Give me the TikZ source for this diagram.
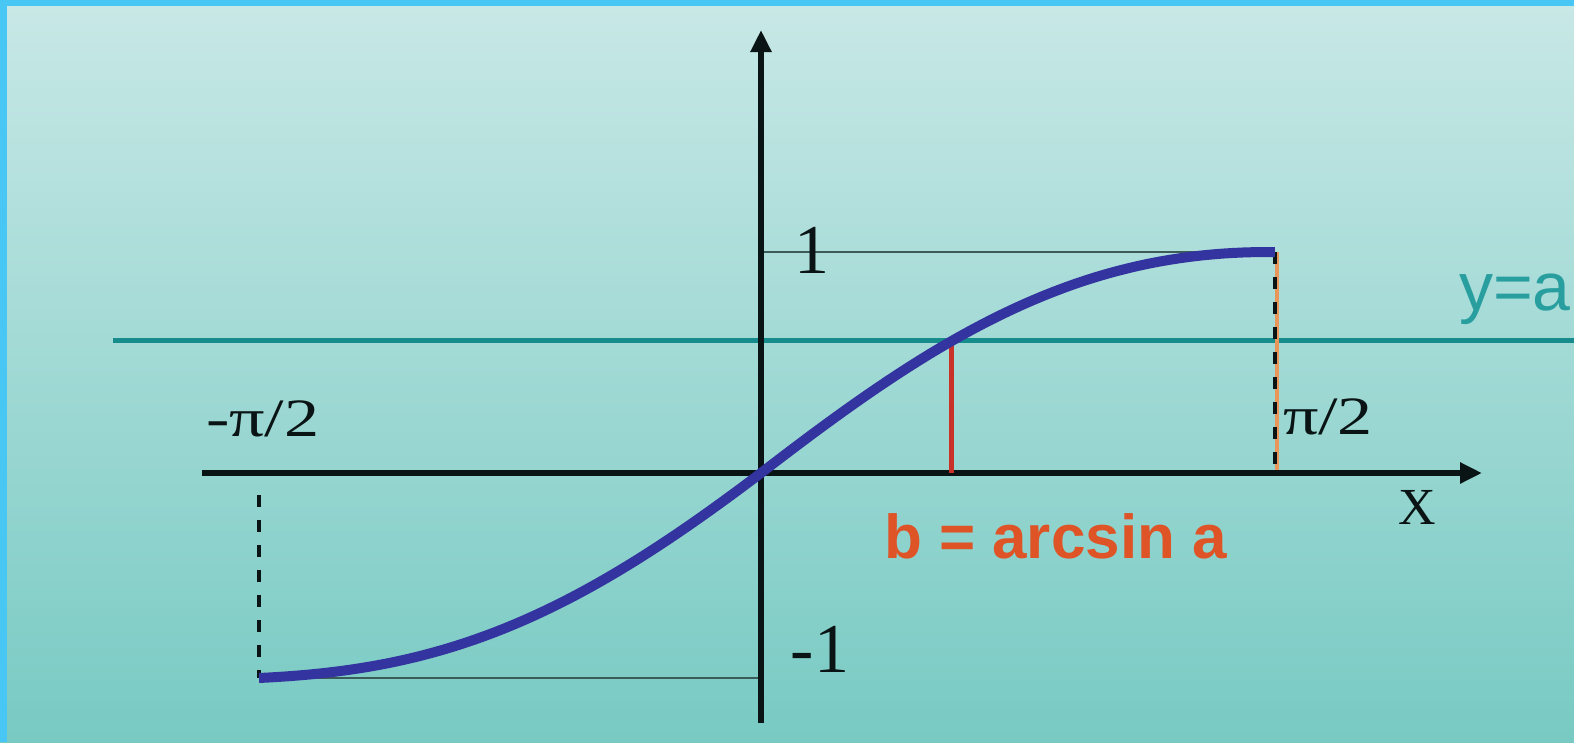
\documentclass[tikz,border=0pt]{standalone}
\usepackage{fontspec}
\usepackage{graphicx}
\setmainfont{Liberation Serif}
\newfontfamily\arialf{Liberation Sans}
\usetikzlibrary{arrows.meta}
\definecolor{bgtop}{RGB}{200,232,230}
\definecolor{bgmid}{RGB}{162,219,213}
\definecolor{bgbot}{RGB}{120,202,195}
\definecolor{frameblue}{RGB}{72,198,244}
\definecolor{axisblack}{RGB}{10,20,20}
\definecolor{curveblue}{RGB}{52,52,160}
\definecolor{lineteal}{RGB}{22,140,140}
\definecolor{textteal}{RGB}{40,158,158}
\definecolor{redline}{RGB}{200,50,40}
\definecolor{labelred}{RGB}{222,84,38}
\definecolor{dashorange}{RGB}{232,150,90}
\definecolor{thingray}{RGB}{60,92,90}
\begin{document}
\begin{tikzpicture}[x=1pt,y=-1pt,
  axisline/.style={draw=axisblack,line width=5.5pt,-{Triangle[length=22pt,width=20pt]}},
  thinline/.style={draw=thingray,line width=2.2pt},
  dashline/.style={draw=axisblack,line width=4.5pt,dash pattern=on 12pt off 13pt},
  curveline/.style={draw=curveblue,line width=10pt,line join=round},
  lab/.style={inner sep=0pt,outer sep=0pt,text=axisblack}]
\useasboundingbox (0,0) rectangle (1574,742);
% background and frame
\shade[top color=bgtop,middle color=bgmid,bottom color=bgbot] (0,0) rectangle (1574,742);
\fill[frameblue] (0,0) rectangle (1574,6);
\fill[frameblue] (0,0) rectangle (7,742);
% key points
\coordinate (O) at (761,473);
\coordinate (xa) at (202,473);
\coordinate (xb) at (1482,473);
\coordinate (ya) at (761,723);
\coordinate (yb) at (761,30);
\coordinate (P1) at (1275,252);
\coordinate (Pm1) at (259,678);
\coordinate (Y1) at (761,252);
\coordinate (Ym1) at (761,678);
\coordinate (Xp) at (1275,473);
\coordinate (Xm) at (259,495);
\coordinate (La) at (113,340);
\coordinate (Lb) at (1574,340);
\coordinate (B) at (951,341);
\coordinate (Bx) at (951,473);
% y = a line
\draw[lineteal,line width=5pt] (La) -- (Lb);
% thin guide lines
\draw[thinline] (Y1) -- (P1);
\draw[thinline] (Pm1) -- (Ym1);
% dashed verticals
\draw[dashorange,line width=4pt] ([xshift=2pt]P1) -- ([xshift=2pt]Xp);
\draw[dashline] (P1) -- (Xp);
\draw[dashline] (Xm) -- (Pm1);
% axes
\draw[axisline] (xa) -- (xb);
\draw[axisline] (ya) -- (yb);
% red segment
\draw[redline,line width=5pt] (B) -- (Bx);
% curve
\draw[curveline] plot[domain=1:0,samples=50,variable=\u]
   ({761-502*\u},{473+205*(sin(\u*90)+0.09*sin(\u*180)-0.4*\u*\u*(1-\u))})
  -- plot[domain=0:1,samples=50,variable=\u]
   ({761+514*\u},{473-221*(sin(\u*90)+0.07*sin(\u*180)-0.2*\u*\u*(1-\u))});
% labels
\node[lab,anchor=base] (one) at (812,273) {\fontsize{70}{70}\selectfont 1};
\node[lab,anchor=base] (mone) at (820,672) {\fontsize{70}{70}\selectfont -1};
\node[lab,anchor=base west] (mpi) at (206,436) {\scalebox{1.3}[1]{\fontsize{54}{54}\selectfont -π/2}};
\node[lab,anchor=base west] (ppi) at (1283,434) {\scalebox{1.3}[1]{\fontsize{54}{54}\selectfont π/2}};
\node[lab,anchor=base] (xlab) at (1417,524) {\fontsize{52}{52}\selectfont X};
\node[lab,anchor=base west,text=textteal] (yal) at (1459,310) {\arialf\fontsize{68}{68}\selectfont y=a};
\node[lab,anchor=base west,text=labelred] (blab) at (884,558) {\arialf\bfseries\fontsize{62}{62}\selectfont b = arcsin a};
\end{tikzpicture}
\end{document}
